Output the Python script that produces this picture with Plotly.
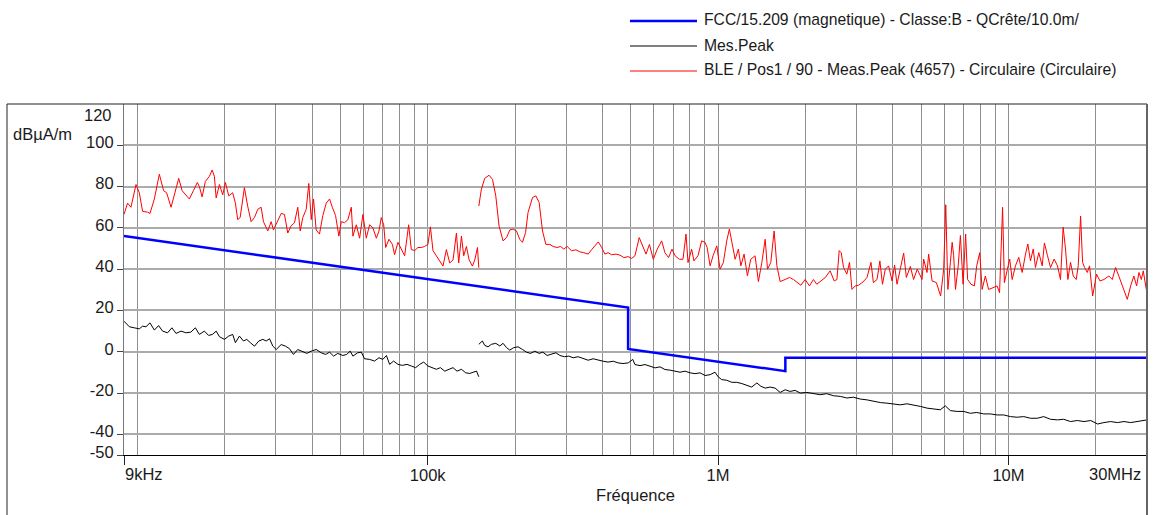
import math
import plotly.graph_objects as go

FONT = "Arial, 'Liberation Sans', Helvetica, sans-serif"

# ---- limit line (FCC 15.209 magnetic, class B, QP at 10 m) : (kHz, dBuA/m)
limit_freq_khz = [9, 490, 490, 1705, 1705, 30000]
limit_db = [56.1, 21.4, 1.4, -9.4, -2.9, -2.9]

# ---- red measurement (kHz, dBuA/m), band 9-150 kHz
red_band1 = [(9.0,66.5),(9.26,72),(9.51,70),(9.90,81),(10.16,77),(10.43,68),(10.85,67.6),(11.06,67),(11.45,74),(11.91,86),(12.32,78),(12.62,77),(13.07,70),(13.48,77),(13.89,84),(14.27,78),(14.64,76),(15.11,74),(15.60,78),(16.10,82),(16.36,80),(16.72,75),(17.16,82.5),(17.72,85),(18.10,88),(18.43,85),(18.69,74.5),(19.18,81),(19.69,76),(20.11,82),(20.65,75.5),(21.31,77),(21.77,72),(22.17,64),(22.61,65),(23.38,79.5),(24.00,70.5),(24.66,63),(25.32,65),(26.00,69),(26.70,70),(27.20,63),(28.14,58.5),(28.91,63),(29.44,59),(30.47,64),(31.30,67),(32.13,66.5),(32.98,57.5),(33.86,61),(34.78,62.5),(35.70,70),(36.40,58.5),(37.15,65),(38.17,69),(38.96,81.5),(39.72,64),(40.45,74),(41.31,59),(42.40,57),(43.55,66),(44.75,72),(45.94,74),(46.94,70),(48.17,66),(49.45,56),(50.4,63),(51.72,62.5),(53.13,64),(54.58,70),(55.28,56),(56.79,61.5),(58.29,55),(59.84,66.5),(61.45,55),(63.10,61.5),(64.77,60),(66.57,55),(67.96,58.5),(69.22,65),(70.55,61.5),(71.68,50.5),(73.57,54.5),(75.59,52),(76.92,47),(79.0,53),(81.2,49.5),(83.3,46.5),(86.0,61.5),(87.85,49.5),(90.2,49),(92.6,50.5),(95.2,50.5),(97.6,51),(100.2,52),(102.2,60.5),(104.3,49),(107.1,46.5),(110.0,44),(112.9,41.5),(116.0,49.5),(119.1,43),(122.3,44.5),(125.6,57.5),(127.9,43),(130.7,56),(133.1,46.5),(136.0,51),(138.9,44.5),(142.6,41.5),(145.3,44.5),(148.4,50.5),(150.0,40.7)]

# ---- red measurement, band 150 kHz - 30 MHz
red_band2 = [(150,70.6),(153.1,78.7),(157.2,84),(162.7,85.5),(167.2,83.5),(171.6,75.5),(176.1,61),(181.8,53.7),(186.9,55.3),(191.8,59),(196.9,59.4),(202.2,58.5),(207.5,54.5),(212.1,53),(217.3,57.7),(221.6,67.4),(229.6,74.7),(235.8,75.5),(242.0,72.3),(248.6,58.5),(255.2,52),(263.5,52),(270.5,51),(279.1,50.5),(286.9,51),(294.4,49.7),(302.2,51),(313.0,48.9),(323.8,49.4),(334.2,48.4),(344.9,48),(357.0,47.3),(366.7,49.4),(376.6,51.6),(386.8,53.2),(397.4,50.5),(407.7,47.3),(418.0,48),(429.8,47),(445.2,47.3),(459.4,46.8),(474.1,45.6),(490.4,46.1),(504,45.2),(517.3,46.5),(535.2,55.3),(549.8,51.6),(564.8,47.3),(580.3,52),(598.4,44.8),(617.5,49.7),(639.5,53.7),(656.3,48),(675.3,45.6),(693.7,49.7),(711.1,46.5),(735.7,44.8),(757.2,44.8),(775.5,57),(788,43.2),(811,49.7),(826,44),(853,46.5),(878,53.7),(902,53),(917,50.5),(939,41.6),(961,46.5),(990,51.3),(1016,40),(1043,43.2),(1071,53.7),(1094,59.4),(1115,53),(1145,44.8),(1175,49.7),(1198,41.6),(1229,47.3),(1262,36.8),(1296,44.8),(1341,46.5),(1377,34),(1415,43.2),(1453,54.5),(1480,40),(1519,43.2),(1560,58.5),(1594,41.6),(1636,34),(1702,35),(1762,36),(1818,35),(1885,33),(1928,32.2),(1995,35),(2064,31.9),(2130,35),(2188,32.7),(2261,34.3),(2338,35.9),(2432,39.2),(2512,34.3),(2566,35),(2613,49),(2655,48),(2705,40.8),(2776,37.6),(2836,43.3),(2891,30.2),(2968,31.9),(3047,32.2),(3155,33.8),(3256,35.9),(3362,43.3),(3427,33.5),(3527,35),(3608,44),(3683,32.7),(3766,40),(3866,41.6),(3974,34.3),(4054,42),(4133,32.7),(4264,41.6),(4356,47.8),(4451,36),(4594,41.3),(4713,35),(4852,40),(5040,35),(5104,44.9),(5243,38.4),(5311,47.3),(5458,34.3),(5648,33.5),(5840,27),(5984,40),(6083,71.2),(6186,30.2),(6310,43.3),(6400,53),(6477,46.5),(6570,30.2),(6714,41.6),(6833,56.3),(6978,32.7),(7121,57),(7234,35),(7433,32.7),(7633,31.9),(7776,41.6),(7962,48),(8115,30.2),(8327,36.7),(8543,30.2),(8845,31),(9137,31.9),(9319,28.6),(9419,45.7),(9546,70),(9683,33.5),(9898,40),(10100,44.9),(10300,35),(10570,41.6),(10850,45.7),(11150,38.4),(11450,47.3),(11660,52.2),(11910,44),(12170,49.8),(12390,40.8),(12720,48),(13070,41.6),(13300,52.7),(13630,46.5),(13960,40.8),(14370,44.9),(14750,41.6),(15110,35),(15430,60.3),(15720,49.8),(16020,35),(16360,43.3),(16720,36.7),(17120,35),(17390,41.6),(17720,65.7),(18000,43.3),(18290,40.8),(18680,38.4),(19020,41.6),(19500,27),(20110,37.6),(20660,34.3),(21310,35),(22170,36.7),(22780,35),(23380,40.8),(23990,36.7),(24650,31.9),(25660,25.4),(26350,31.9),(27030,36.7),(27630,31.9),(28150,38.4),(28680,35),(29130,39.2),(29690,31.9),(30000,28.6)]

# ---- black measurement (Mes.Peak), band 9-150 kHz
black_band1 = [(9.0,14.8),(9.39,12.1),(9.76,11.6),(10.16,11.1),(10.43,12.4),(10.71,12.1),(11.06,14),(11.45,10.5),(11.84,12.7),(12.22,10),(12.72,9.2),(13.16,11.6),(13.6,8.9),(14.15,10),(14.7,9.2),(15.28,9.5),(15.85,11.6),(16.36,8.4),(17.02,10),(17.61,7.9),(18.15,8.4),(18.69,10),(19.18,7.3),(19.95,6),(20.65,7.6),(21.31,8.4),(21.77,4.4),(22.48,7.6),(23.21,5.2),(23.82,6),(24.52,4.4),(25.32,2.7),(26.2,5.2),(27.06,6),(27.78,5.2),(28.54,6.3),(29.3,2.7),(30.09,1.1),(31.3,3.5),(32.39,2.7),(33.43,1.5),(34.5,-1.3),(35.7,1.1),(36.99,0.3),(38.36,-0.8),(39.72,0.3),(41.31,1.1),(42.99,-0.5),(44.5,-1.3),(45.94,-0.2),(47.42,-2.1),(49.0,-0.8),(51.05,-1.8),(52.6,-1.3),(54.1,0.3),(55.28,-2.1),(57.4,-0.5),(59.1,-0.2),(60.6,-3.4),(63.1,-3.7),(65.6,-4.5),(67.96,-2.9),(70.1,-3.7),(72.1,-1.8),(73.95,-6.1),(76.35,-4.5),(79.0,-6.1),(81.8,-6.6),(84.9,-6.1),(87.85,-6.9),(90.9,-7.7),(93.9,-6.1),(96.9,-5),(100.2,-6.9),(103.8,-7.7),(107.1,-8.5),(110.6,-7.7),(114.5,-9.4),(118.4,-8.5),(122.3,-7.7),(126.2,-9.4),(130.7,-8.5),(135.2,-10.2),(139.6,-10.5),(144.2,-9.8),(147.3,-9.4),(150.0,-12.1)]

# ---- black measurement, band 150 kHz - 30 MHz
black_band2 = [(150,3.6),(154.3,5.2),(157.2,3.1),(161.4,2.4),(165.7,3.6),(171.6,4.1),(177.2,2.8),(181.8,4.1),(186.9,2),(191.8,0.8),(197.7,2),(204.7,2.4),(212.1,1.1),(218.9,-0.2),(226.0,-0.8),(233.8,0.3),(242.0,-0.8),(249.2,-0.2),(257.8,-1.8),(266.7,-1.3),(276.3,-0.5),(285.4,-1.8),(295.9,-2.4),(306.2,-2.1),(316.9,-2.9),(329.8,-2.4),(342.7,-3.4),(357.0,-4.1),(371.5,-3.4),(386.8,-4.1),(402.3,-4.6),(418.0,-5),(435.7,-4.6),(452.8,-5.4),(470.5,-5.7),(490.4,-5.4),(508.4,-3.7),(517.3,-6.2),(538.3,-6.7),(560.3,-6.2),(583.3,-7),(607.1,-7.8),(631,-7.3),(656.3,-8.6),(683.2,-8.9),(711.1,-9.4),(739.6,-9.9),(769.8,-9.4),(800.6,-10.2),(833.2,-10.6),(866.7,-10.2),(902,-11.5),(939,-11.1),(976,-9.9),(1002,-12.2),(1030,-13.5),(1071,-13.8),(1115,-14.8),(1160,-14.8),(1207,-15.4),(1256,-16.4),(1306,-17.1),(1360,-15.1),(1404,-16.7),(1453,-17.6),(1511,-17.1),(1572,-17.6),(1636,-19.7),(1702,-18.4),(1771,-19.2),(1843,-18.7),(1917,-20),(2022,-19.7),(2130,-20.3),(2248,-20.8),(2367,-20.3),(2497,-21.3),(2636,-21.6),(2776,-22.4),(2925,-22),(3087,-22.9),(3256,-23.3),(3427,-24.1),(3620,-24.6),(3816,-24.9),(4022,-25.2),(4238,-25.7),(4475,-25.2),(4713,-25.7),(4988,-26.5),(5243,-27.3),(5524,-27.8),(5822,-28.1),(6060,-26.2),(6310,-28.5),(6657,-28.9),(7011,-28.9),(7394,-29.8),(7776,-29.4),(8220,-30.1),(8660,-30.1),(9137,-30.6),(9630,-30.6),(10160,-31.4),(10710,-31.7),(11290,-31.4),(11910,-32.2),(12560,-32.2),(13230,-31.4),(13960,-32.7),(14750,-33),(15490,-32.7),(16360,-33.8),(17260,-33.3),(18200,-33.8),(19210,-33.3),(20270,-35),(21310,-34.3),(22490,-33.8),(23710,-34.3),(25000,-33.8),(26350,-34.3),(27780,-33.8),(29280,-33.3),(30000,-33)]

# ---- axis ticks
x_major_hz = [9e3, 1e5, 1e6, 1e7, 3e7]
x_major_text = ["", "100k", "1M", "10M", ""]
x_minor_hz = [1e4, 2e4, 3e4, 4e4, 5e4, 6e4, 7e4, 8e4, 9e4,
              2e5, 3e5, 4e5, 5e5, 6e5, 7e5, 8e5, 9e5,
              2e6, 3e6, 4e6, 5e6, 6e6, 7e6, 8e6, 9e6, 2e7]
y_ticks = [-50, -40, -20, 0, 20, 40, 60, 80, 100]
y_ticktext = ["-50", "-40", "-20", "0", "20", "40", "60", "80", "100"]

legend_names = ["FCC/15.209 (magnetique) - Classe:B - QCrête/10.0m/",
                "Mes.Peak",
                "BLE / Pos1 / 90 - Meas.Peak (4657) - Circulaire (Circulaire)"]
legend_colors = ["#0000ff", "#000000", "#ff0000"]
legend_widths = [2.5, 1, 1]


def join_bands(b1, b2):
    f = [p[0] * 1e3 for p in b1] + [None] + [p[0] * 1e3 for p in b2]
    v = [p[1] for p in b1] + [None] + [p[1] for p in b2]
    return f, v


rf, rv = join_bands(red_band1, red_band2)
bf, bv = join_bands(black_band1, black_band2)

fig = go.Figure()
fig.add_trace(go.Scatter(x=rf, y=rv, mode="lines", name=legend_names[2],
                         line=dict(color="#ff0000", width=1), connectgaps=False))
fig.add_trace(go.Scatter(x=bf, y=bv, mode="lines", name=legend_names[1],
                         line=dict(color="#000000", width=1), connectgaps=False))
fig.add_trace(go.Scatter(x=[f * 1e3 for f in limit_freq_khz], y=limit_db, mode="lines",
                         name=legend_names[0], line=dict(color="#0000ff", width=2.5)))

AX_FONT = dict(family=FONT, size=16.5, color="#1a1a1a")

fig.update_layout(
    width=1155, height=515,
    margin=dict(l=124, r=8, t=104, b=60),
    paper_bgcolor="white", plot_bgcolor="white",
    showlegend=False,
    font=dict(family=FONT, size=16.5, color="#1a1a1a"),
    xaxis=dict(
        type="log", range=[math.log10(9e3), math.log10(3e7)],
        tickvals=x_major_hz, ticktext=x_major_text,
        ticks="outside", ticklen=9, tickcolor="#222", tickwidth=1,
        showgrid=True, gridcolor="#8f8f8f", gridwidth=1,
        minor=dict(tickvals=x_minor_hz, showgrid=True, gridcolor="#8f8f8f", gridwidth=1, ticks=""),
        showline=True, linecolor="#000", linewidth=1,
        zeroline=False, tickfont=AX_FONT, automargin=False,
        ticklabelstandoff=-4,
        title=dict(text="Fréquence", font=AX_FONT, standoff=6),
    ),
    yaxis=dict(
        range=[-50, 120], tickvals=y_ticks, ticktext=y_ticktext,
        ticks="outside", ticklen=6, tickcolor="#444", tickwidth=1,
        showgrid=True, gridcolor="#ababab", gridwidth=1.6,
        showline=True, linecolor="#777", linewidth=1.2,
        zeroline=False, tickfont=AX_FONT, ticklabelshift=-3, automargin=False,
    ),
)

P_W, P_H = 1023.0, 351.0
shapes = [
    # outer frame
    dict(type="rect", xref="paper", yref="paper", x0=-117 / P_W, x1=1.0, y0=-0.3, y1=1.0,
         line=dict(color="#222", width=1), layer="above"),
    dict(type="line", xref="paper", yref="paper", x0=1.0, x1=1.0, y0=-0.3, y1=1.0,
         line=dict(color="#666", width=2), layer="above"),
]
annotations = [
    dict(text="dBµA/m", xref="paper", yref="paper", x=-113 / P_W, y=321 / P_H,
         xanchor="left", yanchor="middle", showarrow=False, font=AX_FONT),
    dict(text="120", xref="paper", yref="paper", x=-10 / P_W, y=340 / P_H,
         xanchor="right", yanchor="middle", showarrow=False, font=AX_FONT),
    dict(text="9kHz", xref="paper", yref="paper", x=-1 / P_W, y=-19 / P_H,
         xanchor="left", yanchor="middle", showarrow=False, font=AX_FONT),
    dict(text="30MHz", xref="paper", yref="paper", x=1019 / P_W, y=-19 / P_H,
         xanchor="right", yanchor="middle", showarrow=False, font=AX_FONT),
]
# custom legend (line sample + label)
leg_rows_px = [21, 46, 71]
for name, col, w, ypx in zip(legend_names, legend_colors, legend_widths, leg_rows_px):
    yp = (455 - ypx) / P_H
    shapes.append(dict(type="line", xref="paper", yref="paper", x0=506 / P_W, x1=573 / P_W,
                       y0=yp, y1=yp, line=dict(color=col, width=w)))
    annotations.append(dict(text=name, xref="paper", yref="paper", x=578 / P_W, y=yp + 1 / P_H,
                            xanchor="left", yanchor="middle", showarrow=False,
                            font=dict(family=FONT, size=15.7, color="#1a1a1a")))

fig.update_layout(shapes=shapes, annotations=annotations)
fig.write_html("out.html", config={"displayModeBar": False},
               post_script="document.body.style.margin='0';document.body.style.padding='0';")
